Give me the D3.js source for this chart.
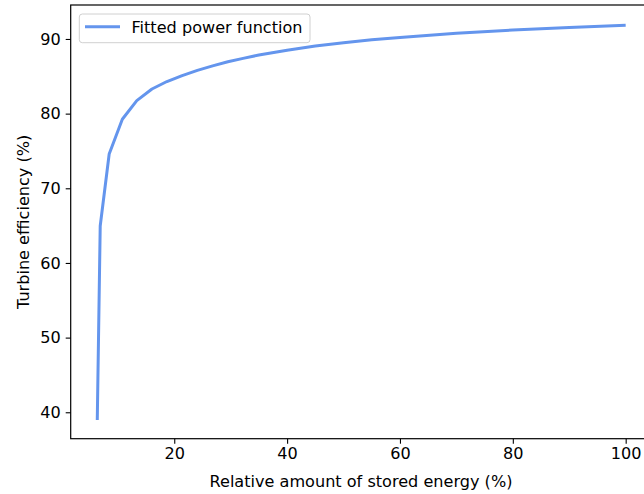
<!DOCTYPE html>
<html>
<head>
<meta charset="utf-8">
<script src="https://cdn.jsdelivr.net/npm/d3@7"></script>
<style>
  html, body { margin: 0; padding: 0; background: #fff; }
  svg { display: block; font-family: "DejaVu Sans", sans-serif; }
</style>
</head>
<body>
<svg id="chart" width="644" height="494"></svg>
<script>
// Data
const storedEnergy = [6.36, 6.88, 8.47, 10.8, 13.36, 16.05, 18.7, 21.4, 24.1, 26.8, 29.5, 32.2, 35, 40, 45, 50, 55, 60, 70, 80, 90, 100];
const efficiency   = [38.97, 64.95, 74.6, 79.25, 81.74, 83.3, 84.3, 85.1, 85.8, 86.4, 86.95, 87.4, 87.85, 88.5, 89.05, 89.5, 89.88, 90.2, 90.75, 91.2, 91.55, 91.85];
const xTicks = [20, 40, 60, 80, 100];
const yTicks = [40, 50, 60, 70, 80, 90];
const seriesName = "Fitted power function";
const xLabel = "Relative amount of stored energy (%)";
const yLabel = "Turbine efficiency (%)";

(function () {
  const svg = d3.select("#chart");
  const pLeft = 70.7, pRight = 652.2, pTop = 5, pBottom = 438.7;
  const fs = 16.1;

  const x = d3.scaleLinear().domain([1.65, 104.7]).range([pLeft, pRight]);
  const y = d3.scaleLinear().domain([36.46, 94.55]).range([pBottom, pTop]);

  const points = storedEnergy.map((v, i) => [v, efficiency[i]]);

  // line
  svg.append("path")
    .datum(points)
    .attr("fill", "none")
    .attr("stroke", "#6495ED")
    .attr("stroke-width", 3)
    .attr("stroke-linejoin", "round")
    .attr("d", d3.line().x(d => x(d[0])).y(d => y(d[1])));

  // axes
  const xAxis = svg.append("g")
    .attr("transform", `translate(0,${pBottom})`)
    .call(d3.axisBottom(x).tickValues(xTicks).tickSize(5).tickPadding(4).tickFormat(d3.format("d")));
  const yAxis = svg.append("g")
    .attr("transform", `translate(${pLeft},0)`)
    .call(d3.axisLeft(y).tickValues(yTicks).tickSize(5).tickPadding(5).tickFormat(d3.format("d")));

  [xAxis, yAxis].forEach(g => {
    g.select(".domain").remove();
    g.selectAll(".tick line").attr("stroke", "#000").attr("stroke-width", 1.1);
    g.selectAll(".tick text").attr("fill", "#000").style("font-size", fs + "px").style("font-family", "DejaVu Sans");
  });
  xAxis.selectAll(".tick text").attr("dy", "0.71em");

  // spines
  svg.append("rect")
    .attr("x", pLeft).attr("y", pTop)
    .attr("width", pRight - pLeft).attr("height", pBottom - pTop)
    .attr("fill", "none").attr("stroke", "#000").attr("stroke-width", 1.2);

  // axis labels
  svg.append("text")
    .attr("x", 361).attr("y", 486.7)
    .attr("text-anchor", "middle")
    .style("font-size", fs + "px")
    .attr("fill", "#000")
    .text(xLabel);

  svg.append("text")
    .attr("transform", `translate(29,${(pTop + pBottom) / 2}) rotate(-90)`)
    .attr("text-anchor", "middle")
    .style("font-size", fs + "px")
    .attr("fill", "#000")
    .text(yLabel);

  // legend
  const lg = svg.append("g");
  lg.append("rect")
    .attr("x", 79.3).attr("y", 14)
    .attr("width", 230.7).attr("height", 28.7)
    .attr("rx", 3).attr("ry", 3)
    .attr("fill", "#fff").attr("fill-opacity", 0.8)
    .attr("stroke", "#d0d0d0").attr("stroke-width", 1);
  lg.append("line")
    .attr("x1", 85).attr("x2", 120)
    .attr("y1", 26.7).attr("y2", 26.7)
    .attr("stroke", "#6495ED").attr("stroke-width", 3);
  lg.append("text")
    .attr("x", 131.5).attr("y", 33.4)
    .style("font-size", fs + "px")
    .attr("fill", "#000")
    .text(seriesName);
})();
</script>
</body>
</html>
